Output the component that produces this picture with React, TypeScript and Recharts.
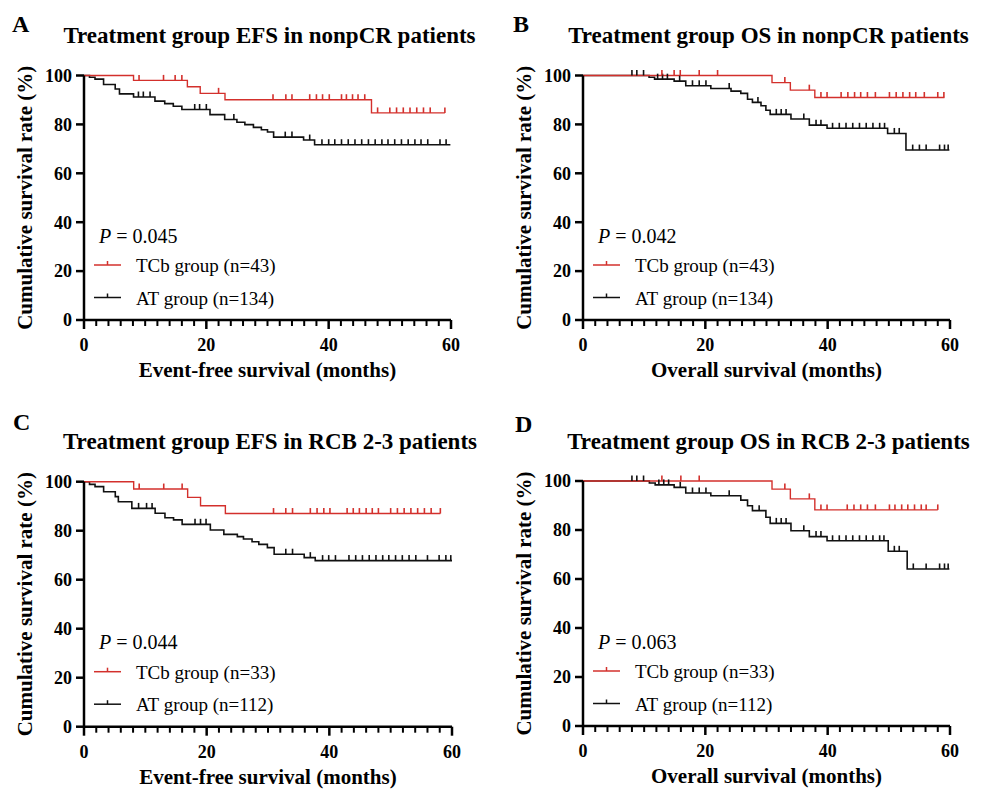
import React from "react";
import { ComposedChart, Line, Scatter, XAxis, YAxis } from "recharts";

const RED = "#d3302c";
const BLACK = "#111111";
const FONT = '"Liberation Serif", "Times New Roman", Times, serif';

const X_TICKS = [0, 2, 4, 6, 8, 10, 12, 14, 16, 18, 20, 22, 24, 26, 28, 30, 32, 34, 36, 38, 40, 42, 44, 46, 48, 50, 52, 54, 56, 58, 60];
const Y_TICKS = [0, 20, 40, 60, 80, 100];

// A: EFS, nonpCR
const A_TCB_T = [0, 8.1, 16.9, 19.0, 23.05, 47.0, 59.0];
const A_TCB_S = [100, 98.0, 95.4, 92.7, 90.1, 84.7, 84.7];
const A_TCB_CENSOR = [9.0, 13.0, 14.9, 16.0, 22.0, 30.9, 33.0, 34.0, 36.9, 38.0, 39.0, 40.1, 42.1, 42.9, 43.9, 44.8, 45.9, 48.0, 50.0, 51.1, 52.2, 53.3, 54.4, 55.5, 56.6, 59.0];
const A_AT_T = [0, 0.9, 1.8, 3.2, 5.1, 5.8, 8.1, 11.6, 13.2, 14.6, 16.0, 20.6, 23.0, 25.0, 26.3, 27.7, 29.0, 30.0, 31.0, 35.9, 37.7, 59.9];
const A_AT_S = [100, 99.3, 98.5, 96.3, 94.5, 92.5, 91.2, 89.5, 88.5, 87.4, 86.1, 84.0, 82.0, 80.9, 79.9, 78.8, 77.8, 76.9, 74.8, 73.6, 71.7, 71.7];
const A_AT_CENSOR = [8.9, 9.7, 10.8, 18.1, 18.9, 20.0, 24.5, 32.9, 34.0, 36.9, 38.9, 40.0, 41.0, 42.1, 43.2, 44.3, 45.4, 46.5, 47.6, 48.7, 49.7, 50.8, 51.9, 53.0, 54.1, 55.1, 56.2, 58.2, 59.2];

// B: OS, nonpCR
const B_TCB_T = [0, 30.9, 33.9, 37.9, 59.1];
const B_TCB_S = [100, 97.1, 94.0, 91.0, 91.0];
const B_TCB_CENSOR = [12.9, 14.9, 15.9, 19.0, 22.0, 33.0, 37.0, 38.9, 39.9, 42.2, 43.3, 44.4, 45.4, 46.5, 47.8, 50.1, 51.2, 52.3, 53.4, 54.4, 55.8, 58.0, 59.0];
const B_AT_T = [0, 10.8, 11.7, 14.9, 16.8, 20.9, 24.2, 25.8, 26.9, 27.7, 29.1, 29.9, 30.6, 34.0, 37.0, 39.9, 49.8, 52.8, 59.9];
const B_AT_S = [100, 99.3, 98.5, 97.7, 95.8, 94.7, 93.6, 92.7, 90.3, 89.0, 87.6, 85.8, 84.1, 82.2, 79.7, 78.4, 76.3, 69.5, 69.5];
const B_AT_CENSOR = [8.0, 8.8, 9.9, 12.2, 13.0, 13.8, 15.8, 17.9, 19.0, 20.1, 23.9, 28.6, 31.6, 32.4, 33.2, 36.1, 38.1, 38.9, 40.8, 41.9, 43.0, 44.1, 45.2, 46.3, 47.4, 48.5, 49.3, 50.9, 51.7, 53.9, 55.0, 56.1, 58.3, 59.1, 59.7];

// C: EFS, RCB 2-3
const C_TCB_T = [0, 8.1, 16.9, 19.0, 23.05, 58.1];
const C_TCB_S = [100, 97.0, 93.6, 90.2, 87.0, 87.0];
const C_TCB_CENSOR = [9.0, 13.0, 16.0, 30.9, 32.9, 34.0, 36.9, 38.0, 39.1, 40.1, 42.9, 43.9, 44.9, 46.0, 47.0, 48.0, 50.0, 51.1, 52.2, 53.3, 54.4, 55.5, 56.6, 58.1];
const C_AT_T = [0, 0.9, 1.8, 3.2, 5.1, 5.6, 7.8, 11.6, 13.2, 14.6, 16.0, 20.6, 22.8, 25.0, 26.0, 27.4, 28.5, 29.9, 31.0, 35.9, 37.7, 60.0];
const C_AT_S = [100, 98.9, 98.0, 95.9, 93.9, 91.8, 89.1, 87.1, 85.3, 84.4, 82.6, 80.3, 78.5, 77.6, 76.6, 75.5, 74.4, 73.1, 70.4, 69.0, 67.8, 67.8];
const C_AT_CENSOR = [8.9, 10.2, 11.1, 18.1, 19.0, 19.9, 32.9, 34.0, 36.9, 38.9, 39.9, 41.0, 43.2, 44.3, 45.4, 46.5, 47.6, 48.7, 49.7, 50.8, 51.9, 53.0, 54.1, 56.0, 57.9, 59.0, 59.8];

// D: OS, RCB 2-3
const D_TCB_T = [0, 30.9, 33.9, 37.9, 58.0];
const D_TCB_S = [100, 96.7, 92.7, 88.2, 88.2];
const D_TCB_CENSOR = [12.9, 16.0, 19.0, 33.0, 37.0, 38.9, 39.9, 43.2, 44.3, 45.4, 46.5, 47.8, 50.1, 51.0, 52.1, 53.1, 54.2, 55.3, 56.1, 58.0];
const D_AT_T = [0, 10.85, 11.8, 14.9, 16.8, 20.9, 25.8, 26.9, 27.7, 29.9, 30.6, 34.0, 37.0, 39.9, 49.9, 53.0, 59.9];
const D_AT_S = [100, 99.2, 98.4, 97.4, 95.1, 94.0, 92.2, 89.9, 87.9, 85.2, 82.7, 79.7, 77.3, 75.6, 71.3, 64.1, 64.1];
const D_AT_CENSOR = [8.0, 8.8, 9.9, 12.4, 13.2, 14.0, 15.9, 17.9, 19.0, 20.1, 23.9, 28.8, 31.6, 32.4, 33.2, 36.1, 38.1, 38.9, 40.8, 41.9, 43.0, 44.1, 45.2, 46.3, 47.4, 48.5, 49.2, 50.9, 51.7, 54.0, 56.1, 58.3, 59.1, 59.7];

function survAt(T: number[], S: number[], t: number) {
  let v = S[0];
  for (let i = 0; i < T.length; i++) {
    if (T[i] <= t) v = S[i];
  }
  return v;
}

const steps = (T: number[], S: number[]) => T.map((t, i) => ({ x: t, y: S[i] }));
const marks = (T: number[], S: number[], C: number[]) => C.map((t) => ({ x: t, y: survAt(T, S, t) }));

const PANELS = [
  {
    letter: "A", title: "Treatment group EFS in nonpCR patients", xLabel: "Event-free survival (months)",
    p: "0.045", nTcb: 43, nAt: 134, ox: 0, oy: 0, plot: { l: 84, r: 451, t: 75.5, b: 320 }, letterAt: [12, 32],
    tcb: steps(A_TCB_T, A_TCB_S), tcbC: marks(A_TCB_T, A_TCB_S, A_TCB_CENSOR),
    at: steps(A_AT_T, A_AT_S), atC: marks(A_AT_T, A_AT_S, A_AT_CENSOR),
  },
  {
    letter: "B", title: "Treatment group OS in nonpCR patients", xLabel: "Overall survival (months)",
    p: "0.042", nTcb: 43, nAt: 134, ox: 494, oy: 0, plot: { l: 583, r: 950, t: 75.5, b: 320 }, letterAt: [513, 32],
    tcb: steps(B_TCB_T, B_TCB_S), tcbC: marks(B_TCB_T, B_TCB_S, B_TCB_CENSOR),
    at: steps(B_AT_T, B_AT_S), atC: marks(B_AT_T, B_AT_S, B_AT_CENSOR),
  },
  {
    letter: "C", title: "Treatment group EFS in RCB 2-3 patients", xLabel: "Event-free survival (months)",
    p: "0.044", nTcb: 33, nAt: 112, ox: 0, oy: 395, plot: { l: 84, r: 452, t: 481.7, b: 726.7 }, letterAt: [13, 430],
    tcb: steps(C_TCB_T, C_TCB_S), tcbC: marks(C_TCB_T, C_TCB_S, C_TCB_CENSOR),
    at: steps(C_AT_T, C_AT_S), atC: marks(C_AT_T, C_AT_S, C_AT_CENSOR),
  },
  {
    letter: "D", title: "Treatment group OS in RCB 2-3 patients", xLabel: "Overall survival (months)",
    p: "0.063", nTcb: 33, nAt: 112, ox: 494, oy: 395, plot: { l: 583, r: 950, t: 481, b: 726 }, letterAt: [515, 432],
    tcb: steps(D_TCB_T, D_TCB_S), tcbC: marks(D_TCB_T, D_TCB_S, D_TCB_CENSOR),
    at: steps(D_AT_T, D_AT_S), atC: marks(D_AT_T, D_AT_S, D_AT_CENSOR),
  },
];

function XTick(props: any) {
  const { x, y, payload } = props;
  const major = payload.value % 20 === 0;
  return (
    <g>
      <line x1={x} x2={x} y1={y} y2={y + (major ? 9 : 6)} stroke="#000" strokeWidth={major ? 2.5 : 2} />
      {major && (
        <text x={x} y={y + 31} textAnchor="middle" fontFamily={FONT} fontWeight="bold" fontSize={18} fill="#000">
          {payload.value}
        </text>
      )}
    </g>
  );
}

const censorShape = (color: string) => (props: any) => (
  <line x1={props.cx} x2={props.cx} y1={props.cy} y2={props.cy - 5.5} stroke={color} strokeWidth={1.6} />
);

function Panel({ cfg }: { cfg: any }) {
  const W = 494;
  const H = 395;
  const { ox, oy, plot } = cfg;
  return (
    <div style={{ position: "absolute", left: ox, top: oy }}>
      <ComposedChart
        width={W}
        height={H}
        margin={{ top: plot.t - oy, right: ox + W - plot.r, bottom: oy + H - plot.b - 40, left: 0 }}
      >
        <XAxis
          type="number"
          dataKey="x"
          domain={[0, 60]}
          ticks={X_TICKS}
          interval={0}
          height={40}
          tickSize={0}
          tickMargin={0}
          tickLine={false}
          axisLine={{ stroke: "#000", strokeWidth: 2.5 }}
          tick={<XTick />}
        />
        <YAxis
          type="number"
          dataKey="y"
          domain={[0, 100]}
          ticks={Y_TICKS}
          interval={0}
          width={plot.l - ox}
          tickSize={8}
          tickMargin={4}
          axisLine={{ stroke: "#000", strokeWidth: 2.5 }}
          tickLine={{ stroke: "#000", strokeWidth: 2.5 }}
          tick={{ fill: "#000", fontSize: 18, fontWeight: "bold", fontFamily: FONT }}
        />
        <Line data={cfg.at} type="stepAfter" dataKey="y" stroke={BLACK} strokeWidth={1.6} dot={false} isAnimationActive={false} />
        <Scatter data={cfg.atC} dataKey="y" shape={censorShape(BLACK)} isAnimationActive={false} />
        <Line data={cfg.tcb} type="stepAfter" dataKey="y" stroke={RED} strokeWidth={1.4} dot={false} isAnimationActive={false} />
        <Scatter data={cfg.tcbC} dataKey="y" shape={censorShape(RED)} isAnimationActive={false} />
      </ComposedChart>
    </div>
  );
}

function Overlay() {
  return (
    <svg width={987} height={790} style={{ position: "absolute", left: 0, top: 0, pointerEvents: "none" }}>
      {PANELS.map((c) => {
        const { plot } = c;
        const cx = (plot.l + plot.r) / 2;
        const cy = (plot.t + plot.b) / 2;
        const legend = [
          { color: RED, label: `TCb group (n=${c.nTcb})`, y: plot.b - 55 },
          { color: BLACK, label: `AT group (n=${c.nAt})`, y: plot.b - 22.5 },
        ];
        return (
          <g key={c.letter} fontFamily={FONT} fill="#000">
            <text x={c.letterAt[0]} y={c.letterAt[1]} fontSize={24} fontWeight="bold">{c.letter}</text>
            <text x={cx + 2} y={plot.t - 32.5} fontSize={23} fontWeight="bold" textAnchor="middle">{c.title}</text>
            <text
              transform={`translate(${plot.l - 59},${cy}) rotate(-90)`}
              dy="0.35em"
              fontSize={21}
              fontWeight="bold"
              textAnchor="middle"
            >
              Cumulative survival rate (%)
            </text>
            <text x={cx} y={plot.b + 57} fontSize={21} fontWeight="bold" textAnchor="middle">{c.xLabel}</text>
            <text x={plot.l + 15} y={plot.b - 77.5} fontSize={20}>
              <tspan fontStyle="italic">P</tspan> = {c.p}
            </text>
            {legend.map((e) => (
              <g key={e.label}>
                <line x1={plot.l + 10} x2={plot.l + 37} y1={e.y} y2={e.y} stroke={e.color} strokeWidth={1.5} />
                <line x1={plot.l + 23.5} x2={plot.l + 23.5} y1={e.y} y2={e.y - 4} stroke={e.color} strokeWidth={1.5} />
                <text x={plot.l + 52} y={e.y + 7} fontSize={19}>{e.label}</text>
              </g>
            ))}
          </g>
        );
      })}
    </svg>
  );
}

export default function App() {
  return (
    <div style={{ position: "absolute", left: 0, top: 0, width: 987, height: 790, background: "#fff" }}>
      {PANELS.map((c) => (
        <Panel key={c.letter} cfg={c} />
      ))}
      <Overlay />
    </div>
  );
}
